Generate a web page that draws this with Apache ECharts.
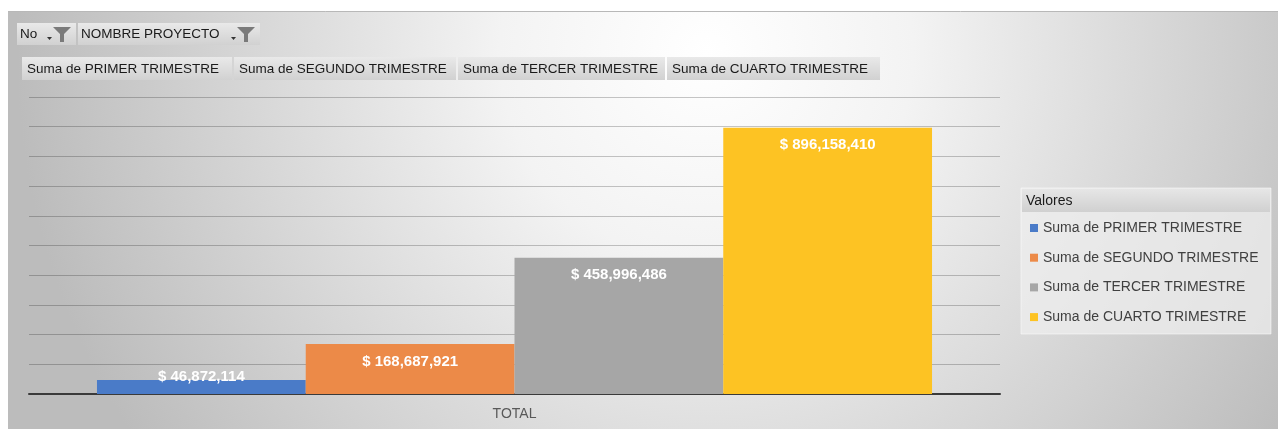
<!DOCTYPE html>
<html>
<head>
<meta charset="utf-8">
<script src="https://cdn.jsdelivr.net/npm/echarts@6/dist/echarts.min.js"></script>
<style>
  html, body { margin: 0; padding: 0; background: #fff; }
  #chart { width: 1278px; height: 429px; }
</style>
</head>
<body>
<div id="chart"></div>
<script>
// datos de la tabla dinamica
const categories = ['TOTAL'];
const seriesNames = [
  'Suma de PRIMER TRIMESTRE',
  'Suma de SEGUNDO TRIMESTRE',
  'Suma de TERCER TRIMESTRE',
  'Suma de CUARTO TRIMESTRE'
];
const seriesValues = [46872114, 168687921, 458996486, 896158410];
const filterLabels = ['No', 'NOMBRE PROYECTO'];
const legendTitle = 'Valores';
const yMin = 0;
const yMax = 1000000000;
const yInterval = 100000000;

const colors = ['#4a7bc8', '#ec8a48', '#a6a6a6', '#fdc323'];
const FONT = '"Liberation Sans", Arial, sans-serif';

const chart = echarts.init(document.getElementById('chart'));

const fmt = v => '$ ' + v.toLocaleString('en-US');

const btnFill = () => new echarts.graphic.LinearGradient(0, 0, 0, 1, [
  { offset: 0, color: '#e9e9e9' },
  { offset: 1, color: '#d1d1d1' }
]);

// botones de filtro y de valores (pivot chart)
const graphics = [];

graphics.push({
  type: 'rect', z: -10, silent: true,
  shape: { x: 8, y: 11, width: 1270, height: 418 },
  style: {
    fill: new echarts.graphic.RadialGradient(0.55, 0.1, 1.65, [
      { offset: 0, color: '#ffffff' },
      { offset: 0.3, color: '#f3f3f3' },
      { offset: 1, color: '#bcbcbc' }
    ])
  }
});
graphics.push({
  type: 'line', z: -9, silent: true,
  shape: { x1: 8, y1: 11.5, x2: 1278, y2: 11.5 },
  style: { stroke: '#b8b8b8', lineWidth: 1 }
});

const filterBoxes = [{ x: 17, w: 59 }, { x: 78, w: 182 }];
filterLabels.forEach((t, i) => {
  const b = filterBoxes[i];
  const fx = b.x + b.w - 29;
  graphics.push({ type: 'rect', shape: { x: b.x, y: 23, width: b.w, height: 22 }, style: { fill: btnFill() } });
  graphics.push({ type: 'text', style: { text: t, x: b.x + 3, y: 34, font: '13.5px ' + FONT, fill: '#1a1a1a', verticalAlign: 'middle' } });
  graphics.push({ type: 'polygon', shape: { points: [[fx, 37], [fx + 5, 37], [fx + 2.5, 40]] }, style: { fill: '#333' } });
  graphics.push({
    type: 'polygon',
    shape: { points: [[fx + 6, 27], [fx + 24, 27], [fx + 17, 34], [fx + 17, 42], [fx + 13, 42], [fx + 13, 34]] },
    style: { fill: '#7a7a7a' }
  });
});

const valueBoxes = [{ x: 22, w: 210 }, { x: 234, w: 222 }, { x: 458, w: 207 }, { x: 667, w: 213 }];
seriesNames.forEach((t, i) => {
  const b = valueBoxes[i];
  graphics.push({ type: 'rect', shape: { x: b.x, y: 57, width: b.w, height: 23 }, style: { fill: btnFill() } });
  graphics.push({ type: 'text', style: { text: t, x: b.x + 5, y: 69, font: '13.5px ' + FONT, fill: '#1a1a1a', verticalAlign: 'middle' } });
});

// caja de leyenda
graphics.push({
  type: 'rect', z: -5,
  shape: { x: 1021, y: 188, width: 250, height: 146 },
  style: { fill: 'rgba(238,238,238,0.75)', stroke: 'rgba(255,255,255,0.5)', lineWidth: 1 }
});
graphics.push({
  type: 'rect', z: -4,
  shape: { x: 1022, y: 189, width: 248, height: 23 },
  style: {
    fill: new echarts.graphic.LinearGradient(0, 0, 0, 1, [
      { offset: 0, color: '#e6e6e6' },
      { offset: 1, color: '#d0d0d0' }
    ])
  }
});
graphics.push({ type: 'text', style: { text: legendTitle, x: 1026, y: 201, font: '14px ' + FONT, fill: '#1a1a1a', verticalAlign: 'middle' } });

const series = seriesNames.map((name, i) => ({
  name: name,
  type: 'bar',
  data: [seriesValues[i]],
  barGap: '0%',
  barCategoryGap: '14%',
  itemStyle: { color: colors[i] },
  label: {
    show: true,
    position: i === 0 ? 'insideBottom' : 'insideTop',
    distance: 10,
    color: '#ffffff',
    fontWeight: 'bold',
    fontSize: 15,
    fontFamily: FONT,
    formatter: p => fmt(p.value)
  }
}));

chart.setOption({
  backgroundColor: '#ffffff',
  animation: false,
  color: colors,
  graphic: graphics,
  grid: { left: 29, right: 278, top: 97, bottom: 35 },
  legend: {
    orient: 'vertical',
    left: 1030,
    top: 221,
    padding: 0,
    icon: 'rect',
    itemWidth: 8,
    itemHeight: 8,
    itemGap: 15.7,
    data: seriesNames,
    textStyle: { color: '#404040', fontSize: 14, lineHeight: 14, fontFamily: FONT }
  },
  xAxis: {
    type: 'category',
    data: categories,
    axisTick: { show: false },
    axisLine: { lineStyle: { color: '#3a3a3a', width: 2 } },
    axisLabel: { color: '#595959', fontSize: 14, fontFamily: FONT, margin: 13 }
  },
  yAxis: {
    type: 'value',
    min: yMin,
    max: yMax,
    interval: yInterval,
    axisLabel: { show: false },
    axisLine: { show: false },
    axisTick: { show: false },
    splitLine: { lineStyle: { color: 'rgba(0,0,0,0.22)', width: 1 } }
  },
  series: series
});
</script>
</body>
</html>
